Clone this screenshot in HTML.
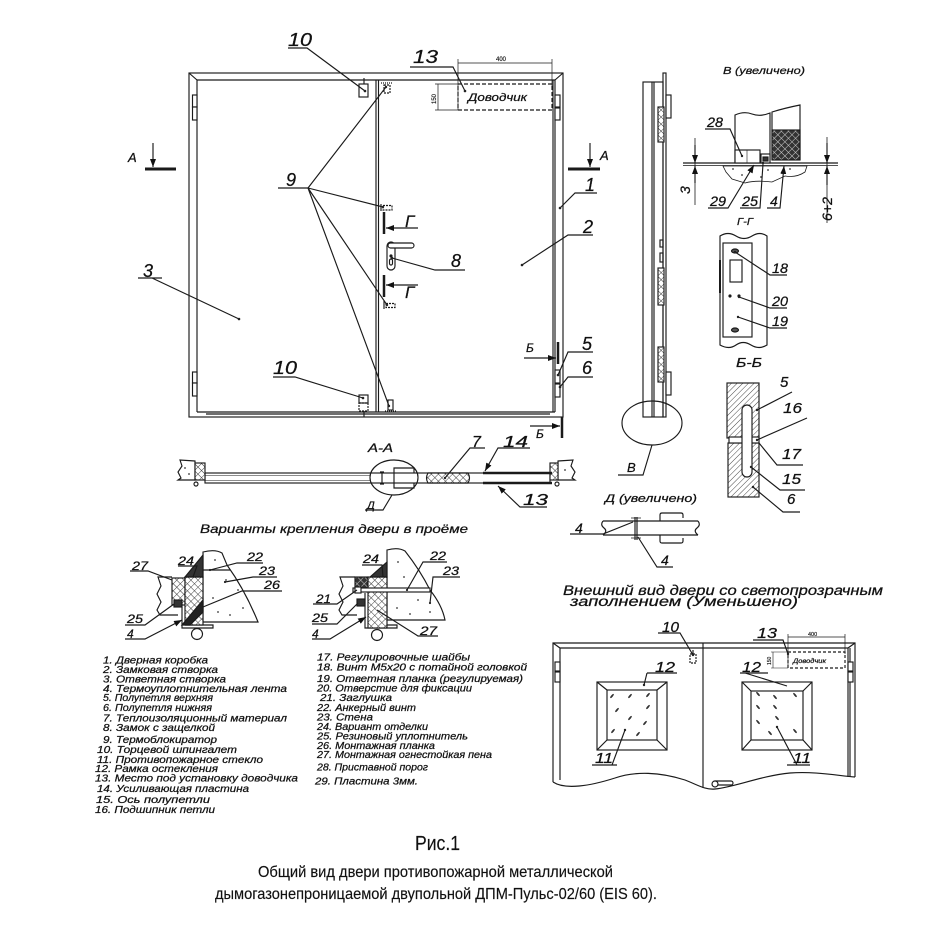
<!DOCTYPE html>
<html><head><meta charset="utf-8"><style>
html,body{margin:0;padding:0;background:#fff;}
svg{display:block;}
text{font-family:"Liberation Sans","DejaVu Sans",sans-serif;font-style:italic;fill:#111;stroke:#111;stroke-width:0.25;}
text.c{font-style:normal;stroke-width:0.15;}
</style></head><body>
<svg width="937" height="934" viewBox="0 0 937 934" xmlns="http://www.w3.org/2000/svg">
<defs>
<pattern id="h" width="4" height="4" patternUnits="userSpaceOnUse" patternTransform="rotate(45)"><rect width="4" height="4" fill="#fff"/><line x1="0" y1="0" x2="0" y2="4" stroke="#333" stroke-width="0.9"/></pattern>
<pattern id="x" width="5" height="5" patternUnits="userSpaceOnUse" patternTransform="rotate(45)"><rect width="5" height="5" fill="#fff"/><path d="M0 0V5M0 0H5" stroke="#333" stroke-width="0.9"/></pattern>
<pattern id="dx" width="5" height="5" patternUnits="userSpaceOnUse" patternTransform="rotate(45)"><rect width="5" height="5" fill="#333"/><path d="M0 0V5M0 0H5" stroke="#ccc" stroke-width="1.1"/></pattern>
<marker id="ar" markerWidth="8" markerHeight="6" refX="8" refY="3" orient="auto" markerUnits="userSpaceOnUse"><path d="M0 0L8 3L0 6Z" fill="#111"/></marker>
</defs>
<rect width="937" height="934" fill="#fff"/>

<g fill="none" stroke="#1a1a1a" stroke-width="1.15">
<!-- ===== MAIN FRONT VIEW ===== -->
<rect x="189" y="73" width="374" height="344"/>
<path d="M197 412V80H555V412"/>
<path d="M189 73L197 80M563 73L555 80"/>
<line x1="553" y1="80" x2="553" y2="412"/>
<line x1="376" y1="80" x2="376" y2="412"/>
<line x1="378.5" y1="80" x2="378.5" y2="412"/>
<line x1="197" y1="412" x2="555" y2="412"/>
<line x1="206" y1="414" x2="550" y2="414"/>
<g fill="#fff">
<rect x="192.5" y="95" width="4.5" height="12"/><rect x="192.5" y="107" width="4.5" height="13"/>
<rect x="192.5" y="372" width="4.5" height="11"/><rect x="192.5" y="383" width="4.5" height="13"/>
<rect x="555" y="95" width="5" height="12"/><rect x="555" y="108" width="5" height="12"/>
<rect x="555" y="370" width="5" height="13"/><rect x="555" y="384" width="5" height="13"/>
</g>
<!-- spagnolets -->
<line x1="364" y1="78" x2="364" y2="84"/>
<rect x="359" y="84" width="9" height="13"/>
<rect x="359" y="395" width="9" height="8"/>
<rect x="359" y="403" width="9" height="8" stroke-dasharray="2 1"/>
<line x1="364" y1="411" x2="364" y2="417"/>
<!-- thermoblocks -->
<rect x="384" y="85" width="6" height="8" stroke-dasharray="2 1"/>
<line x1="381" y1="83" x2="393" y2="83" stroke-dasharray="1 1"/>
<line x1="381" y1="204" x2="381" y2="211"/>
<rect x="383" y="205.5" width="9" height="4.5" stroke-dasharray="2 1"/>
<line x1="384" y1="301" x2="384" y2="309"/>
<rect x="386" y="303.5" width="9" height="4" stroke-dasharray="2 1"/>
<rect x="388" y="400" width="5" height="10"/>
<line x1="385" y1="411" x2="396" y2="411" stroke-dasharray="1 1"/>
<!-- closer place -->
<line x1="458" y1="59" x2="458" y2="110" stroke-width="0.7"/>
<line x1="552" y1="59" x2="552" y2="88" stroke-width="0.7"/>
<line x1="458" y1="63" x2="552" y2="63" stroke-width="0.7"/>
<rect x="458" y="84" width="94" height="26" stroke-dasharray="4 2"/>
<line x1="435" y1="84" x2="458" y2="84" stroke-width="0.7"/>
<line x1="435" y1="110" x2="458" y2="110" stroke-width="0.7"/>
<line x1="438" y1="84" x2="438" y2="110" stroke-width="0.7"/>
<!-- handle -->
<rect x="387" y="242" width="8" height="28" rx="4" fill="#fff"/>
<rect x="388" y="243" width="26" height="5" rx="2.5" fill="#fff"/>
<circle cx="391" cy="256" r="1" fill="#222"/>
<rect x="389.5" y="259" width="3" height="6" rx="1.5"/>
<!-- section marks -->
<line x1="153" y1="143" x2="153" y2="167" marker-end="url(#ar)"/>
<line x1="145" y1="169" x2="176" y2="169" stroke-width="3"/>
<line x1="590" y1="143" x2="590" y2="167" marker-end="url(#ar)"/>
<line x1="568" y1="169" x2="600" y2="169" stroke-width="3"/>
<line x1="384" y1="212" x2="384" y2="234" stroke-width="2.5"/>
<line x1="418" y1="228" x2="386" y2="228" marker-end="url(#ar)"/>
<line x1="384" y1="275" x2="384" y2="297" stroke-width="2.5"/>
<line x1="418" y1="285" x2="386" y2="285" marker-end="url(#ar)"/>
<line x1="558" y1="342" x2="558" y2="364" stroke-width="2.5"/>
<line x1="524" y1="358" x2="556" y2="358" marker-end="url(#ar)"/>
<line x1="562" y1="417" x2="562" y2="438" stroke-width="2.5"/>
<line x1="530" y1="426" x2="560" y2="426" marker-end="url(#ar)"/>
<!-- leaders main -->
<path d="M288 48H307L365 91"/>
<path d="M410 67H453L465 91"/>
<path d="M278 188H308"/>
<path d="M308 188L386 87M308 188L383 207M308 188L387 305M308 188L389 406"/>
<path d="M465 270H435L392 258"/>
<path d="M597 193H575L560 208"/>
<path d="M593 235H568L522 265"/>
<path d="M138 278H162M152 278L239 319"/>
<path d="M593 352H568L558 375"/>
<path d="M593 377H568L560 387"/>
<path d="M273 377H295L363 398"/>

<!-- ===== SIDE VIEW ===== -->
<rect x="643" y="82" width="20" height="335"/>
<line x1="652" y1="82" x2="652" y2="417"/>
<line x1="654" y1="82" x2="654" y2="417"/>
<rect x="663" y="73" width="3" height="344"/>
<g fill="#fff"><rect x="666" y="95" width="5" height="23"/><rect x="666" y="372" width="5" height="23"/></g>
<g fill="url(#x)"><rect x="658" y="107" width="6" height="35"/><rect x="658" y="268" width="6" height="37"/><rect x="658" y="347" width="6" height="35"/></g>
<rect x="660" y="240" width="3" height="7"/><rect x="660" y="253" width="3" height="9"/>
<ellipse cx="652" cy="423" rx="30" ry="22"/>
<path d="M618 475H643L652 445"/>

<!-- ===== DETAIL В ===== -->
<line x1="683" y1="163" x2="838" y2="163"/>
<line x1="683" y1="165.5" x2="838" y2="165.5" stroke-width="0.7"/>
<path d="M735 163V115Q744 111 752 114T770 113V160"/>
<path d="M772 160V112Q785 108 800 105V160"/>
<rect x="772" y="130" width="28" height="30" fill="url(#dx)"/>
<rect x="735" y="150" width="25" height="13" fill="#fff"/>
<line x1="747" y1="150" x2="747" y2="163" stroke-width="0.6"/>
<rect x="761" y="154" width="9" height="9" fill="#fff"/>
<rect x="763" y="157" width="5" height="4" fill="#333"/>
<path d="M723 166L807 166L805 172Q796 178 785 176L772 182Q755 180 745 183L732 179L726 172Z" stroke-width="0.8"/>
<g fill="#333" stroke="none"><circle cx="733" cy="169" r="0.9"/><circle cx="752" cy="172" r="0.9"/><circle cx="768" cy="170" r="0.9"/><circle cx="790" cy="169" r="0.9"/><circle cx="761" cy="177" r="0.9"/><circle cx="742" cy="175" r="0.9"/></g>
<line x1="695" y1="138" x2="695" y2="205" stroke-width="0.8"/>
<line x1="695" y1="145" x2="695" y2="163" marker-end="url(#ar)"/>
<line x1="695" y1="183" x2="695" y2="166" marker-end="url(#ar)"/>
<line x1="827" y1="137" x2="827" y2="223" stroke-width="0.8"/>
<line x1="827" y1="143" x2="827" y2="163" marker-end="url(#ar)"/>
<line x1="827" y1="185" x2="827" y2="166" marker-end="url(#ar)"/>
<path d="M705 129H730L742 156"/>
<path d="M708 208H728L754 165" marker-end="url(#ar)"/>
<path d="M740 208H760L763 164"/>
<path d="M767 208H780L784 166" marker-end="url(#ar)"/>

<!-- ===== Г-Г ===== -->
<path d="M720 236Q728 231 736 236T752 236T767 236V345Q759 350 751 345T736 345T720 345Z"/>
<rect x="723" y="243" width="29" height="94"/>
<rect x="730" y="260" width="12" height="22"/>
<ellipse cx="735" cy="251" rx="3.5" ry="2" fill="#555"/>
<ellipse cx="735" cy="330" rx="3.5" ry="2" fill="#555"/>
<circle cx="730" cy="296" r="1" fill="#222"/><circle cx="739" cy="296" r="1" fill="#222"/>
<line x1="720" y1="260" x2="720" y2="293" stroke-width="2"/>
<path d="M787 275H770L735 252"/>
<path d="M787 308H770L739 297"/>
<path d="M787 328H770L738 317"/>

<!-- ===== Б-Б ===== -->
<rect x="727" y="383" width="32" height="55" fill="url(#h)"/>
<rect x="728" y="443" width="31" height="54" fill="url(#h)"/>
<rect x="729" y="437" width="30" height="6" fill="#fff"/>
<rect x="742" y="405" width="10" height="72" rx="5" fill="#fff"/>
<path d="M757 410L792 392"/>
<path d="M757 440L807 418"/>
<path d="M759 443L777 465H803"/>
<path d="M751 467L780 490H805"/>
<path d="M753 487L783 512H800"/>

<!-- ===== Д detail ===== -->
<path d="M603 521H698M603 535H698"/>
<path d="M603 521Q600 525 604 528T603 535M698 521Q701 525 697 528T698 535"/>
<path d="M635 517V540M637 517V540"/>
<path d="M631 518H641M631 538H641" stroke-width="0.7"/>
<path d="M660 521V515Q660 513 662 513H681Q683 513 683 515V518"/>
<path d="M660 535V541Q660 543 662 543H681Q683 543 683 541V538"/>
<path d="M570 534H603L633 522"/>
<path d="M673 567H657L638 537"/>

<!-- ===== A-A section ===== -->
<rect x="205" y="473" width="345" height="10"/>
<line x1="205" y1="475.5" x2="370" y2="475.5" stroke-width="0.6"/>
<line x1="205" y1="480.5" x2="370" y2="480.5" stroke-width="0.6"/>
<path d="M195 461L180 460L182 466L178 472L181 478L178 480H195Z"/>
<rect x="195" y="463" width="10" height="17" fill="url(#x)"/>
<circle cx="196" cy="484" r="2"/>
<path d="M558 461L573 460L571 466L575 472L572 478L575 480H558Z"/>
<rect x="550" y="463" width="8" height="17" fill="url(#x)"/>
<circle cx="557" cy="484" r="2"/>
<g fill="#333" stroke="none"><circle cx="185" cy="468" r="0.9"/><circle cx="189" cy="474" r="0.9"/><circle cx="565" cy="470" r="0.9"/></g>
<ellipse cx="394" cy="477.5" rx="24" ry="17.5"/>
<path d="M380 472H384M382 472V484M380 484H384"/>
<path d="M414 473V468H394V488H414V483"/>
<path d="M428 473Q425 478 428 483H468Q471 478 468 473Z" fill="url(#x)"/>
<line x1="483" y1="473" x2="552" y2="473" stroke-width="2.5"/>
<line x1="483" y1="483" x2="552" y2="483" stroke-width="2.5"/>
<path d="M485 448H470L445 478"/>
<path d="M530 448H498L485 471" marker-end="url(#ar)"/>
<path d="M547 507H520L498 486" marker-end="url(#ar)"/>
<path d="M365 510H383L392 495"/>

<!-- ===== Variant 1 ===== -->
<path d="M172 577H158L161 586L157 594L161 602L157 610L160 615H178"/>
<rect x="172" y="578" width="13" height="27" fill="url(#x)"/>
<rect x="174" y="600" width="8" height="7" fill="#333"/>
<path d="M182 607V628H213V625H185"/>
<path d="M203 552Q215 549 222 553L227 565Q245 590 258 622H203Z"/>
<g fill="#333" stroke="none"><circle cx="215" cy="560" r="0.9"/><circle cx="226" cy="580" r="0.9"/><circle cx="238" cy="590" r="0.9"/><circle cx="213" cy="598" r="0.9"/><circle cx="243" cy="608" r="0.9"/><circle cx="230" cy="615" r="0.9"/><circle cx="218" cy="612" r="0.9"/></g>
<rect x="185" y="577" width="18" height="48" fill="url(#x)"/>
<path d="M185 577L203 555V577Z" fill="#333"/>
<path d="M182 625L203 600V612L190 625Z" fill="#222"/>
<line x1="203" y1="570" x2="230" y2="570"/>
<circle cx="197" cy="634" r="5.5"/>
<path d="M130 571H148L172 580"/>
<path d="M178 566H197L193 577"/>
<path d="M263 563H237L210 570"/>
<path d="M277 577H253L225 582"/>
<path d="M282 591H242L203 607"/>
<path d="M125 625H145L174 604"/>
<path d="M125 639H145L182 620" marker-end="url(#ar)"/>

<!-- ===== Variant 2 ===== -->
<path d="M355 577H340L343 586L339 594L343 602L339 610L342 615H357"/>
<rect x="355" y="577" width="13" height="11" fill="url(#dx)"/>
<path d="M365 593V628H397V625H368"/>
<rect x="357" y="599" width="8" height="7" fill="#333"/>
<path d="M387 550Q398 547 405 551Q420 570 430 590Q442 605 445 620H387Z"/>
<g fill="#333" stroke="none"><circle cx="398" cy="562" r="0.9"/><circle cx="404" cy="577" r="0.9"/><circle cx="418" cy="600" r="0.9"/><circle cx="397" cy="608" r="0.9"/><circle cx="430" cy="612" r="0.9"/><circle cx="410" cy="614" r="0.9"/></g>
<rect x="368" y="577" width="19" height="51" fill="url(#x)"/>
<path d="M370 577L387 562V577Z" fill="#333"/>
<rect x="353" y="588" width="77" height="4" fill="#fff"/>
<rect x="355" y="587" width="6" height="6" fill="#fff"/>
<circle cx="377" cy="635" r="5.5"/>
<path d="M362 565H382L383 577"/>
<path d="M447 562H423L407 590"/>
<path d="M460 577H433L430 603"/>
<path d="M313 604H337L357 590"/>
<path d="M312 624H337L358 603"/>
<path d="M312 639H330L366 617" marker-end="url(#ar)"/>
<path d="M438 636H418L377 610"/>

<!-- ===== Bottom-right view ===== -->
<path d="M553 782V643H855V777"/>
<path d="M553 643L560 648H848L855 643"/>
<path d="M560 648V780M848 648V777M850 648V777"/>
<line x1="703" y1="643" x2="703" y2="788"/>
<path d="M553 782C565 790 590 786 615 778C635 771 660 772 685 780C698 785 705 790 715 789C735 787 760 776 790 773C815 771 840 776 855 777"/>
<g fill="#fff"><rect x="555" y="662" width="5" height="9"/><rect x="555" y="672" width="5" height="10"/><rect x="848" y="662" width="5" height="9"/><rect x="848" y="672" width="5" height="10"/></g>
<rect x="690" y="654" width="6" height="9" stroke-dasharray="2 1"/>
<line x1="693" y1="650" x2="693" y2="654"/>
<rect x="597" y="682" width="70" height="68"/>
<rect x="607" y="690" width="50" height="50"/>
<path d="M597 682L607 690M667 682L657 690M597 750L607 740M667 750L657 740"/>
<rect x="742" y="682" width="70" height="68"/>
<rect x="751" y="691" width="52" height="49"/>
<path d="M742 682L751 691M812 682L803 691M742 750L751 740M812 750L803 740"/>
<line x1="788" y1="634" x2="788" y2="668" stroke-width="0.7"/>
<line x1="845" y1="634" x2="845" y2="654" stroke-width="0.7"/>
<line x1="788" y1="637" x2="845" y2="637" stroke-width="0.7"/>
<rect x="788" y="652" width="57" height="16" stroke-dasharray="3 2"/>
<line x1="771" y1="652" x2="788" y2="652" stroke-width="0.6"/>
<line x1="771" y1="668" x2="788" y2="668" stroke-width="0.6"/>
<line x1="773" y1="652" x2="773" y2="668" stroke-width="0.6"/>
<rect x="713" y="781" width="20" height="4" rx="2" fill="#fff"/>
<circle cx="715" cy="784" r="3" fill="#fff"/>
<path d="M658 633H680L693 655"/>
<path d="M753 640H783L788 654"/>
<path d="M647 673H677M647 673L644 685"/>
<path d="M740 673H768M745 673L787 686"/>
<path d="M592 765H617M612 765L625 730"/>
<path d="M787 765H810M797 765L777 727"/>
</g>
<g fill="#222" stroke="none">
<circle cx="365" cy="91" r="1.3"/><circle cx="465" cy="91" r="1.3"/><circle cx="392" cy="258" r="1.3"/><circle cx="560" cy="208" r="1.3"/><circle cx="522" cy="265" r="1.3"/><circle cx="239" cy="319" r="1.3"/><circle cx="558" cy="375" r="1.3"/><circle cx="560" cy="387" r="1.3"/><circle cx="363" cy="398" r="1.3"/><circle cx="386" cy="87" r="1.2"/><circle cx="383" cy="207" r="1.2"/><circle cx="387" cy="305" r="1.2"/><circle cx="389" cy="406" r="1.2"/>
<circle cx="742" cy="156" r="1.2"/><circle cx="763" cy="163" r="1.2"/><circle cx="735" cy="252" r="1.2"/><circle cx="739" cy="297" r="1.2"/><circle cx="738" cy="317" r="1.2"/>
<circle cx="757" cy="410" r="1.2"/><circle cx="757" cy="440" r="1.2"/><circle cx="751" cy="467" r="1.2"/><circle cx="753" cy="487" r="1.2"/><circle cx="445" cy="478" r="1.2"/>
<circle cx="693" cy="655" r="1.2"/><circle cx="788" cy="654" r="1.2"/><circle cx="644" cy="685" r="1.2"/><circle cx="625" cy="730" r="1.2"/><circle cx="777" cy="727" r="1.2"/>
<circle cx="225" cy="582" r="1.1"/><circle cx="430" cy="603" r="1.1"/><circle cx="407" cy="590" r="1.1"/><circle cx="210" cy="570" r="1.1"/>
</g>
<!-- glass marks -->
<g fill="#333" stroke="none">
<ellipse cx="612" cy="696" rx="2.6" ry="0.9" transform="rotate(-50 612 696)"/>
<ellipse cx="630" cy="696" rx="2.6" ry="0.9" transform="rotate(-50 630 696)"/>
<ellipse cx="648" cy="695" rx="2.6" ry="0.9" transform="rotate(-50 648 695)"/>
<ellipse cx="617" cy="710" rx="2.6" ry="0.9" transform="rotate(-50 617 710)"/>
<ellipse cx="648" cy="707" rx="2.6" ry="0.9" transform="rotate(-50 648 707)"/>
<ellipse cx="630" cy="718" rx="2.6" ry="0.9" transform="rotate(-50 630 718)"/>
<ellipse cx="645" cy="723" rx="2.6" ry="0.9" transform="rotate(-50 645 723)"/>
<ellipse cx="613" cy="731" rx="2.6" ry="0.9" transform="rotate(-50 613 731)"/>
<ellipse cx="638" cy="734" rx="2.6" ry="0.9" transform="rotate(-50 638 734)"/>
<ellipse cx="758" cy="694" rx="2.6" ry="0.9" transform="rotate(50 758 694)"/>
<ellipse cx="775" cy="697" rx="2.6" ry="0.9" transform="rotate(50 775 697)"/>
<ellipse cx="795" cy="695" rx="2.6" ry="0.9" transform="rotate(50 795 695)"/>
<ellipse cx="758" cy="707" rx="2.6" ry="0.9" transform="rotate(50 758 707)"/>
<ellipse cx="775" cy="707" rx="2.6" ry="0.9" transform="rotate(50 775 707)"/>
<ellipse cx="758" cy="722" rx="2.6" ry="0.9" transform="rotate(50 758 722)"/>
<ellipse cx="777" cy="718" rx="2.6" ry="0.9" transform="rotate(50 777 718)"/>
<ellipse cx="795" cy="731" rx="2.6" ry="0.9" transform="rotate(50 795 731)"/>
<ellipse cx="770" cy="733" rx="2.6" ry="0.9" transform="rotate(50 770 733)"/>
</g>

<!-- ===== TEXT ===== -->
<g font-size="18">
<text x="288" y="46" textLength="24" lengthAdjust="spacingAndGlyphs">10</text>
<text x="413" y="63" textLength="25" lengthAdjust="spacingAndGlyphs">13</text>
<text x="286" y="186">9</text>
<text x="451" y="267">8</text>
<text x="585" y="191">1</text>
<text x="583" y="233">2</text>
<text x="143" y="277">3</text>
<text x="582" y="350">5</text>
<text x="582" y="374">6</text>
<text x="273" y="374" textLength="24" lengthAdjust="spacingAndGlyphs">10</text>
</g>
<text x="128" y="162" font-size="13">А</text>
<text x="600" y="160" font-size="13">А</text>
<text x="405" y="227" font-size="17">Г</text>
<text x="405" y="298" font-size="17">Г</text>
<text x="526" y="352" font-size="12">Б</text>
<text x="536" y="438" font-size="12">Б</text>
<text x="468" y="101" font-size="11" textLength="59" lengthAdjust="spacingAndGlyphs">Доводчик</text>
<text x="496" y="61" font-size="6" class="c">400</text>
<text x="436" y="104" font-size="6" class="c" transform="rotate(-90 436 104)">150</text>

<text x="627" y="472" font-size="13">В</text>
<text x="723" y="74" font-size="10" textLength="82" lengthAdjust="spacingAndGlyphs">В (увеличено)</text>
<g font-size="14">
<text x="707" y="127" textLength="16" lengthAdjust="spacingAndGlyphs">28</text>
<text x="710" y="206" textLength="16" lengthAdjust="spacingAndGlyphs">29</text>
<text x="742" y="206" textLength="16" lengthAdjust="spacingAndGlyphs">25</text>
<text x="770" y="206">4</text>
</g>
<text x="690" y="194" font-size="14" transform="rotate(-90 690 194)">3</text>
<text x="832" y="221" font-size="14" transform="rotate(-90 832 221)" textLength="24" lengthAdjust="spacingAndGlyphs">6+2</text>
<text x="737" y="225" font-size="10" textLength="16" lengthAdjust="spacingAndGlyphs">Г-Г</text>
<g font-size="14">
<text x="772" y="273" textLength="16" lengthAdjust="spacingAndGlyphs">18</text>
<text x="772" y="306" textLength="16" lengthAdjust="spacingAndGlyphs">20</text>
<text x="772" y="326" textLength="16" lengthAdjust="spacingAndGlyphs">19</text>
</g>
<text x="736" y="367" font-size="13" textLength="26" lengthAdjust="spacingAndGlyphs">Б-Б</text>
<g font-size="15">
<text x="780" y="387">5</text>
<text x="783" y="413" textLength="19" lengthAdjust="spacingAndGlyphs">16</text>
<text x="782" y="459" textLength="19" lengthAdjust="spacingAndGlyphs">17</text>
<text x="782" y="484" textLength="19" lengthAdjust="spacingAndGlyphs">15</text>
<text x="787" y="504">6</text>
</g>
<text x="605" y="502" font-size="11" textLength="92" lengthAdjust="spacingAndGlyphs">Д (увеличено)</text>
<text x="575" y="533" font-size="14">4</text>
<text x="661" y="565" font-size="14">4</text>

<text x="368" y="452" font-size="12" textLength="25" lengthAdjust="spacingAndGlyphs">А-А</text>
<g font-size="16">
<text x="472" y="447">7</text>
<text x="503" y="447" textLength="25" lengthAdjust="spacingAndGlyphs">14</text>
<text x="523" y="505" textLength="25" lengthAdjust="spacingAndGlyphs">13</text>
</g>
<text x="367" y="509" font-size="11">Д</text>
<text x="200" y="533" font-size="12" textLength="268" lengthAdjust="spacingAndGlyphs">Варианты крепления двери в проёме</text>

<g font-size="12">
<text x="132" y="570" textLength="16" lengthAdjust="spacingAndGlyphs">27</text>
<text x="178" y="565" textLength="16" lengthAdjust="spacingAndGlyphs">24</text>
<text x="247" y="561" textLength="16" lengthAdjust="spacingAndGlyphs">22</text>
<text x="259" y="575" textLength="16" lengthAdjust="spacingAndGlyphs">23</text>
<text x="264" y="589" textLength="16" lengthAdjust="spacingAndGlyphs">26</text>
<text x="127" y="623" textLength="16" lengthAdjust="spacingAndGlyphs">25</text>
<text x="127" y="638">4</text>
<text x="363" y="563" textLength="16" lengthAdjust="spacingAndGlyphs">24</text>
<text x="430" y="560" textLength="16" lengthAdjust="spacingAndGlyphs">22</text>
<text x="443" y="575" textLength="16" lengthAdjust="spacingAndGlyphs">23</text>
<text x="316" y="603" textLength="15" lengthAdjust="spacingAndGlyphs">21</text>
<text x="312" y="622" textLength="16" lengthAdjust="spacingAndGlyphs">25</text>
<text x="312" y="638">4</text>
<text x="420" y="635" textLength="17" lengthAdjust="spacingAndGlyphs">27</text>
</g>

<!-- legend left -->
<g font-size="9.8" style="stroke-width:0.3">
<text x="103" y="663.5" textLength="105" lengthAdjust="spacingAndGlyphs">1. Дверная коробка</text>
<text x="103" y="673" textLength="115" lengthAdjust="spacingAndGlyphs">2. Замковая створка</text>
<text x="103" y="682.5" textLength="123" lengthAdjust="spacingAndGlyphs">3. Ответная створка</text>
<text x="103" y="692" textLength="184" lengthAdjust="spacingAndGlyphs">4. Термоуплотнительная лента</text>
<text x="103" y="701" textLength="110" lengthAdjust="spacingAndGlyphs">5. Полупетля верхняя</text>
<text x="103" y="711" textLength="109" lengthAdjust="spacingAndGlyphs">6. Полупетля нижняя</text>
<text x="103" y="721.5" textLength="184" lengthAdjust="spacingAndGlyphs">7. Теплоизоляционный материал</text>
<text x="103" y="731" textLength="112" lengthAdjust="spacingAndGlyphs">8. Замок с защелкой</text>
<text x="103" y="743" textLength="114" lengthAdjust="spacingAndGlyphs">9. Термоблокиратор</text>
<text x="97" y="753" textLength="140" lengthAdjust="spacingAndGlyphs">10. Торцевой шпингалет</text>
<text x="97" y="763" textLength="166" lengthAdjust="spacingAndGlyphs">11. Противопожарное стекло</text>
<text x="95" y="772" textLength="123" lengthAdjust="spacingAndGlyphs">12. Рамка остекления</text>
<text x="95" y="781.5" textLength="203" lengthAdjust="spacingAndGlyphs">13. Место под установку доводчика</text>
<text x="97" y="792" textLength="152" lengthAdjust="spacingAndGlyphs">14. Усиливающая пластина</text>
<text x="96" y="803" textLength="114" lengthAdjust="spacingAndGlyphs">15. Ось полупетли</text>
<text x="95" y="813" textLength="120" lengthAdjust="spacingAndGlyphs">16. Подшипник петли</text>
<!-- legend right -->
<text x="317" y="660.5" textLength="153" lengthAdjust="spacingAndGlyphs">17. Регулировочные шайбы</text>
<text x="317" y="670.5" textLength="210" lengthAdjust="spacingAndGlyphs">18. Винт М5х20 с потайной головкой</text>
<text x="317" y="682" textLength="206" lengthAdjust="spacingAndGlyphs">19. Ответная планка (регулируемая)</text>
<text x="317" y="691.5" textLength="155" lengthAdjust="spacingAndGlyphs">20. Отверстие для фиксации</text>
<text x="320" y="701" textLength="72" lengthAdjust="spacingAndGlyphs">21. Заглушка</text>
<text x="317" y="711" textLength="99" lengthAdjust="spacingAndGlyphs">22. Анкерный винт</text>
<text x="317" y="720.5" textLength="56" lengthAdjust="spacingAndGlyphs">23. Стена</text>
<text x="317" y="730" textLength="111" lengthAdjust="spacingAndGlyphs">24. Вариант отделки</text>
<text x="317" y="739.5" textLength="151" lengthAdjust="spacingAndGlyphs">25. Резиновый уплотнитель</text>
<text x="317" y="749" textLength="118" lengthAdjust="spacingAndGlyphs">26. Монтажная планка</text>
<text x="317" y="758" textLength="175" lengthAdjust="spacingAndGlyphs">27. Монтажная огнестойкая пена</text>
<text x="317" y="770.5" textLength="111" lengthAdjust="spacingAndGlyphs">28. Приставной порог</text>
<text x="315" y="784.5" textLength="103" lengthAdjust="spacingAndGlyphs">29. Пластина 3мм.</text>
</g>

<!-- bottom right view text -->
<text x="563" y="595" font-size="13.5" textLength="320" lengthAdjust="spacingAndGlyphs">Внешний вид двери со светопрозрачным</text>
<text x="570" y="606" font-size="13.5" textLength="228" lengthAdjust="spacingAndGlyphs">заполнением  (Уменьшено)</text>
<g font-size="15">
<text x="662" y="632" textLength="17" lengthAdjust="spacingAndGlyphs">10</text>
<text x="757" y="638" textLength="20" lengthAdjust="spacingAndGlyphs">13</text>
<text x="655" y="672" textLength="20" lengthAdjust="spacingAndGlyphs">12</text>
<text x="742" y="672" textLength="19" lengthAdjust="spacingAndGlyphs">12</text>
<text x="595" y="763" textLength="18" lengthAdjust="spacingAndGlyphs">11</text>
<text x="793" y="763" textLength="18" lengthAdjust="spacingAndGlyphs">11</text>
</g>
<text x="808" y="636" font-size="5.5" class="c">400</text>
<text x="771" y="665" font-size="5" class="c" transform="rotate(-90 771 665)">150</text>
<text x="793" y="663" font-size="6.5" textLength="33" lengthAdjust="spacingAndGlyphs">Доводчик</text>

<!-- caption -->
<text x="415" y="850" font-size="20" class="c" textLength="45" lengthAdjust="spacingAndGlyphs">Рис.1</text>
<text x="258" y="877" font-size="16" class="c" textLength="355" lengthAdjust="spacingAndGlyphs">Общий вид двери противопожарной металлической</text>
<text x="215" y="899" font-size="16" class="c" textLength="442" lengthAdjust="spacingAndGlyphs">дымогазонепроницаемой двупольной ДПМ-Пульс-02/60 (EIS 60).</text>
</svg>
</body></html>
